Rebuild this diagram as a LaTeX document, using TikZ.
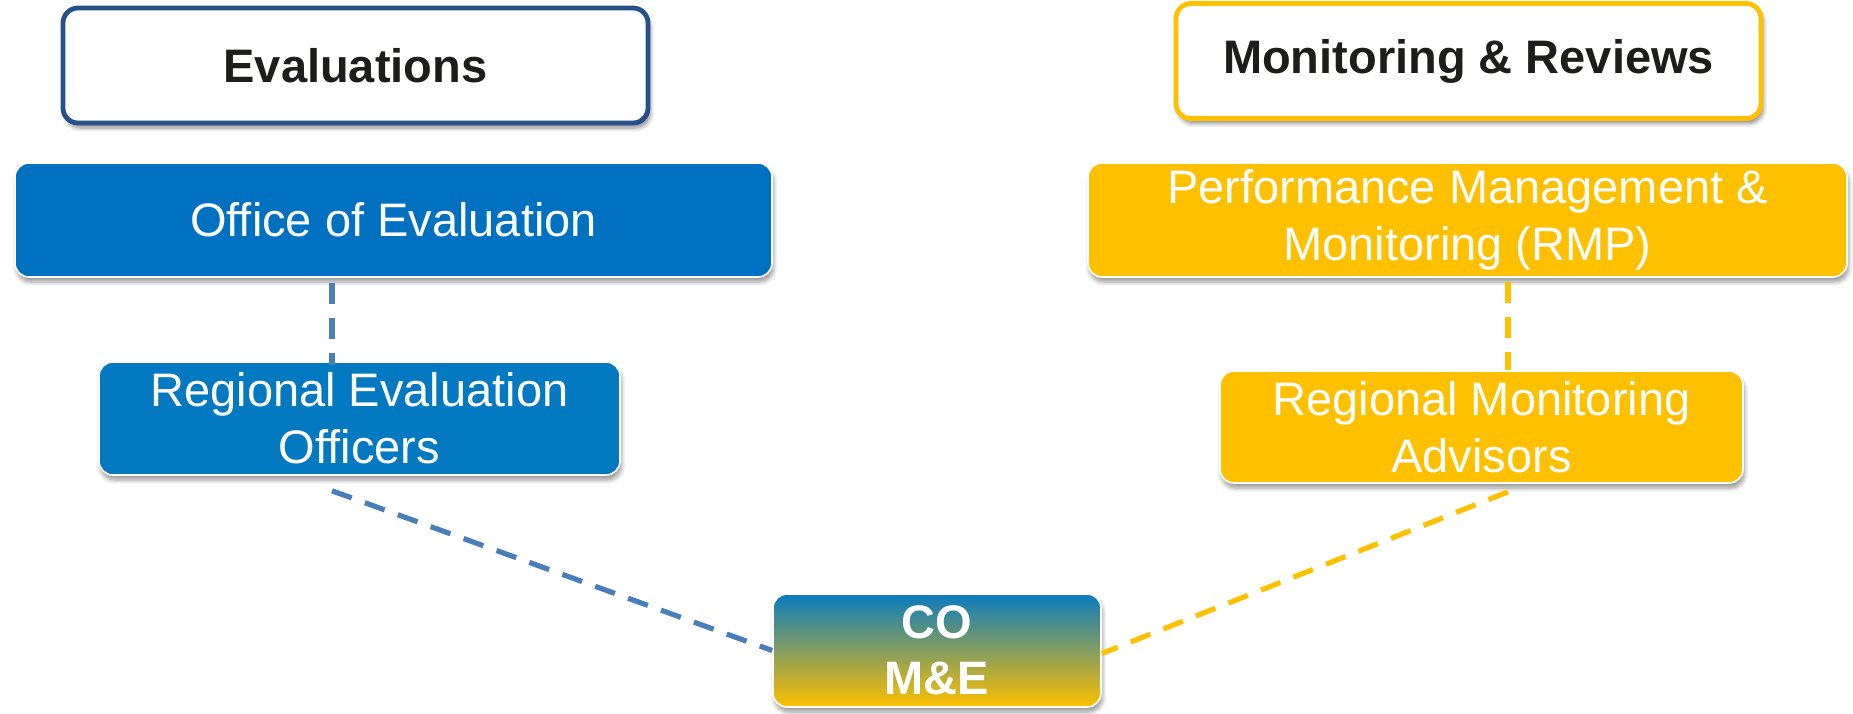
\documentclass[tikz,border=0pt]{standalone}
\usepackage{fontspec}
\setmainfont{Liberation Sans}
\usetikzlibrary{shadows.blur,calc}
\definecolor{navy}{RGB}{37,80,138}
\definecolor{gold}{RGB}{255,192,0}
\definecolor{oeblue}{RGB}{0,112,192}
\definecolor{reblue}{RGB}{3,121,193}
\definecolor{lineblue}{RGB}{74,126,187}
\definecolor{darktext}{RGB}{29,29,27}
\definecolor{cotop}{RGB}{10,123,190}
\definecolor{comid}{RGB}{125,158,95}
\tikzset{
  boxfont/.style={font=\fontsize{23.5}{28.5}\selectfont},
  header/.style={rectangle, rounded corners=7.5pt, fill=white, line width=2.4pt,
    text=darktext, font=\fontsize{23.5}{28.5}\selectfont\bfseries, inner sep=0pt, align=center,
    blur shadow={shadow xshift=1.2pt, shadow yshift=-2.5pt, shadow blur steps=6, shadow opacity=45}},
  unit/.style={boxfont, rectangle, rounded corners=7pt, draw=white, line width=0.8pt,
    text=white, inner sep=0pt, align=center,
    blur shadow={shadow xshift=0.8pt, shadow yshift=-2.5pt, shadow blur steps=6, shadow opacity=40}},
  link/.style={dash pattern=on 10.5pt off 7pt, line width=2.6pt},
}
\begin{document}
\begin{tikzpicture}[x=0.5pt,y=-0.5pt]
\useasboundingbox (0,0) rectangle (1853,713);
% header boxes
\node[header, draw=navy, minimum width=292.5pt, minimum height=57.5pt] (eval) at (355.5,65.5) {Evaluations};
\node[header, draw=gold, minimum width=292.5pt, minimum height=57.5pt] (mon) at (1468.5,61) {Monitoring \& Reviews};
% units
\node[unit, fill=oeblue, minimum width=378.5pt, minimum height=57pt] (office) at (393.5,220) {Office of Evaluation};
\node[unit, fill=gold, minimum width=379.5pt, minimum height=57pt] (pmm) at (1467.5,220)
  {\parbox{360pt}{\centering Performance Management \&\\ Monitoring (RMP)}};
\node[unit, fill=reblue, minimum width=260.5pt, minimum height=56.5pt] (reo) at (359.5,418.5) {Regional Evaluation\\Officers};
\node[unit, fill=gold, minimum width=261.5pt, minimum height=56pt] (rma) at (1481.5,427) {Regional Monitoring\\Advisors};
\node[unit, top color=cotop, middle color=comid, bottom color=gold, font=\fontsize{23.5}{28}\selectfont\bfseries,
  minimum width=164pt, minimum height=56.5pt] (co) at (937,650.5) {CO\\M\&E};
% connectors
\draw[link, lineblue] ($(office.south)+(-61.5,5)$) -- ($(reo.north)+(-27.5,4)$);
\draw[link, lineblue] ($(reo.south)+(-27.5,15)$) -- (co.west);
\draw[link, gold] ($(pmm.south)+(40.5,4)$) -- ($(rma.north)+(26.5,0)$);
\draw[link, gold] ($(rma.south)+(26.5,8)$) -- ($(co.east)+(0,3)$);
\end{tikzpicture}
\end{document}
